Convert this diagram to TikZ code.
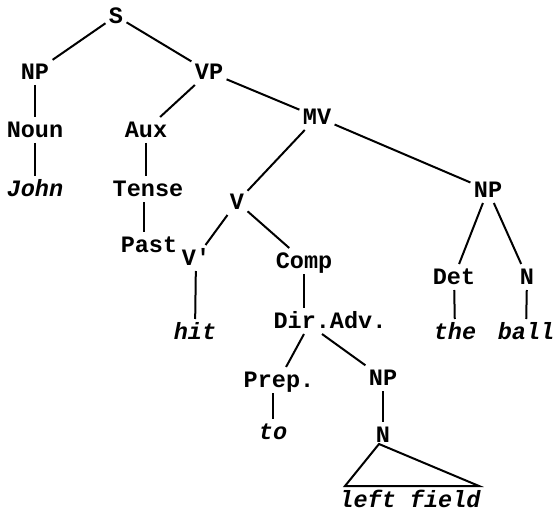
\documentclass[tikz,border=0pt]{standalone}
\usepackage{fontspec}
\setmonofont{Liberation Mono}
\begin{document}
\begin{tikzpicture}[x=1pt,y=-1pt,line width=2pt,
    every node/.style={font=\ttfamily\bfseries\fontsize{23.5}{23.5}\selectfont,
      inner sep=2.5pt,text height=17pt,text depth=2pt},
    word/.style={font=\ttfamily\bfseries\itshape\fontsize{23.5}{23.5}\selectfont}]
  \useasboundingbox (0,0) rectangle (559,513);
  \draw
    (116,16) node (s){S}
    (35,72) node (np1){NP}
    (209,72) node (vp){VP}
    (35,130) node (noun){Noun}
    (146,130) node (aux){Aux}
    (317,117) node (mv){MV}
    (35,189) node[word] (john){John}
    (148,189) node (tense){Tense}
    (237,202) node (v){V}
    (488,190) node (np2){NP}
    (149,245) node (past){Past}
    (196,258) node (vb){V'}
    (304,261) node (comp){Comp}
    (454,277) node (det){Det}
    (527,277) node (n2){N}
    (195,332) node[word] (hit){hit}
    (330,321) node (dir){Dir.Adv.}
    (455,332) node[word] (the){the}
    (526,332) node[word] (ball){ball}
    (279,380) node (prep){Prep.}
    (383,378) node (np3){NP}
    (273,432) node[word] (to){to}
    (383,435) node (n3){N}
    (410,500) node[word] (lf){left field};
  \coordinate (top) at (379,444);
  \coordinate (bl) at (345,486);
  \coordinate (br) at (479,486);
  \begin{scope}[-]
    \draw (s) to (np1);
    \draw (s) to (vp);
    \draw (np1) to (noun);
    \draw (noun) to (john);
    \draw (vp) to (aux);
    \draw (vp) to (mv);
    \draw (aux.south) to (aux.south |- tense.north);
    \draw ([xshift=-4pt]tense.south) to ([xshift=-4pt]tense.south |- past.north);
    \draw (mv) to (v);
    \draw (mv) to (np2);
    \draw (v) to (vb);
    \draw (v) to (comp);
    \draw (vb) to (hit);
    \draw (comp.south) to (comp.south |- dir.north);
    \draw (dir.south -| comp.south) to (prep);
    \draw ([xshift=-8pt]dir.south) to (np3);
    \draw (prep.south -| to) to (to);
    \draw (np3) to (n3);
    \draw (np2) to (det);
    \draw (np2) to (n2);
    \draw (det) to (the);
    \draw (n2) to (ball);
  \end{scope}
  \draw[line join=miter] (top) -- (bl) -- (br) -- cycle;
\end{tikzpicture}
\end{document}
